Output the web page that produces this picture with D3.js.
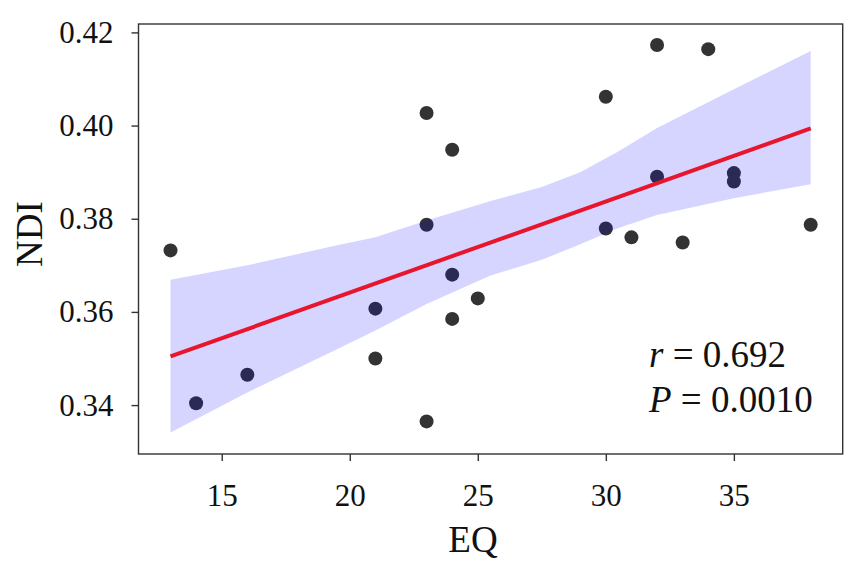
<!DOCTYPE html>
<html>
<head>
<meta charset="utf-8">
<script src="https://cdn.jsdelivr.net/npm/d3@7.9.0/dist/d3.min.js"></script>
<style>
  body { margin: 0; background: #fff; }
  svg { display: block; font-family: "Liberation Serif", "Times New Roman", serif; }
  .tick text { font-size: 31px; fill: #111; }
</style>
</head>
<body>
<svg id="chart" width="851" height="575"></svg>
<script>
// ========== Data ==========

// EQ score per subject (x) and NDI value (y)
const eqValues = [13, 14, 16, 21, 21, 23, 23, 23, 24, 24, 24, 25, 30, 30, 31, 32, 32, 33, 34, 35, 35, 38];
const ndiValues = [0.3732, 0.3404, 0.3465, 0.3607, 0.3500, 0.4027, 0.3787, 0.3365, 0.3948, 0.3680, 0.3585,
                   0.3629, 0.4062, 0.3779, 0.3760, 0.4173, 0.3890, 0.3749, 0.4164, 0.3898, 0.3880, 0.3787];

// Confidence band
const bandX = [13, 16, 19.5, 21, 23, 25.5, 27.5, 29, 30.5, 32, 35, 38];
const bandUpper = [0.3669, 0.3700, 0.3743, 0.3760, 0.3796, 0.3838, 0.3868, 0.3900, 0.3945, 0.3995, 0.4078, 0.4160];
const bandLower = [0.3341, 0.3427, 0.3520, 0.3560, 0.3617, 0.3678, 0.3712, 0.3745, 0.3780, 0.3808, 0.3844, 0.3874];

// Axis ticks
const xTicks = [15, 20, 25, 30, 35];
const yTicks = [0.34, 0.36, 0.38, 0.40, 0.42];

const statLines = [['r', ' = 0.692'], ['P', ' = 0.0010']];

// ========== Scales ==========

const plot = { left: 138.5, right: 842.7, top: 24, bottom: 454 };

const x = d3.scaleLinear().domain([11.75, 39.25]).range([plot.left, plot.right]);
const y = d3.scaleLinear().domain([0.3295, 0.4218]).range([plot.bottom, plot.top]);

const svg = d3.select('#chart');

// ========== Points ==========

const points = eqValues.map((v, i) => ({ eq: v, ndi: ndiValues[i] }));

svg.append('g')
  .selectAll('circle')
  .data(points)
  .join('circle')
  .attr('cx', d => x(d.eq))
  .attr('cy', d => y(d.ndi))
  .attr('r', 7)
  .attr('fill', '#333');

// ========== Confidence band ==========

const band = bandX.map((v, i) => ({ eq: v, lo: bandLower[i], hi: bandUpper[i] }));

svg.append('path')
  .datum(band)
  .attr('d', d3.area().x(d => x(d.eq)).y0(d => y(d.lo)).y1(d => y(d.hi)))
  .attr('fill', '#0000ff')
  .attr('fill-opacity', 0.165);

// ========== Regression line (least squares) ==========

const mx = d3.mean(eqValues);
const my = d3.mean(ndiValues);
const sxy = d3.sum(eqValues, (v, i) => (v - mx) * (ndiValues[i] - my));
const sxx = d3.sum(eqValues, v => (v - mx) ** 2);
const slope = sxy / sxx;
const intercept = my - slope * mx;
const xExtent = d3.extent(eqValues);

svg.append('path')
  .datum(xExtent)
  .attr('d', d3.line().x(d => x(d)).y(d => y(intercept + slope * d)))
  .attr('stroke', '#e8152d')
  .attr('stroke-width', 4)
  .attr('fill', 'none');

// ========== Axes ==========

const xAxis = svg.append('g')
  .attr('transform', `translate(0,${plot.bottom})`)
  .call(d3.axisBottom(x).tickValues(xTicks).tickSize(7).tickPadding(23).tickFormat(d3.format('d')));

const yAxis = svg.append('g')
  .attr('transform', `translate(${plot.left},0)`)
  .call(d3.axisLeft(y).tickValues(yTicks).tickSize(7).tickPadding(18).tickFormat(d3.format('.2f')));

[xAxis, yAxis].forEach(g => {
  // drop d3's sans-serif defaults so the serif font from the css applies
  g.attr('font-family', null).attr('font-size', null);
  g.select('.domain').remove();
  g.selectAll('.tick line').attr('stroke', '#333').attr('stroke-width', 1.4);
});

// frame
svg.append('rect')
  .attr('x', plot.left)
  .attr('y', plot.top)
  .attr('width', plot.right - plot.left)
  .attr('height', plot.bottom - plot.top)
  .attr('fill', 'none')
  .attr('stroke', '#333')
  .attr('stroke-width', 1.4);

// ========== Labels ==========

svg.append('text')
  .attr('x', 473)
  .attr('y', 552)
  .attr('text-anchor', 'middle')
  .attr('font-size', 37)
  .attr('fill', '#111')
  .text('EQ');

svg.append('text')
  .attr('transform', 'translate(42,234) rotate(-90)')
  .attr('text-anchor', 'middle')
  .attr('font-size', 37)
  .attr('fill', '#111')
  .text('NDI');

// stats annotation
statLines.forEach(([sym, rest], i) => {
  const t = svg.append('text')
    .attr('x', 649)
    .attr('y', 367 + i * 44.5)
    .attr('font-size', 37)
    .attr('fill', '#111');
  t.append('tspan').attr('font-style', 'italic').text(sym);
  t.append('tspan').text(rest);
});
</script>
</body>
</html>
